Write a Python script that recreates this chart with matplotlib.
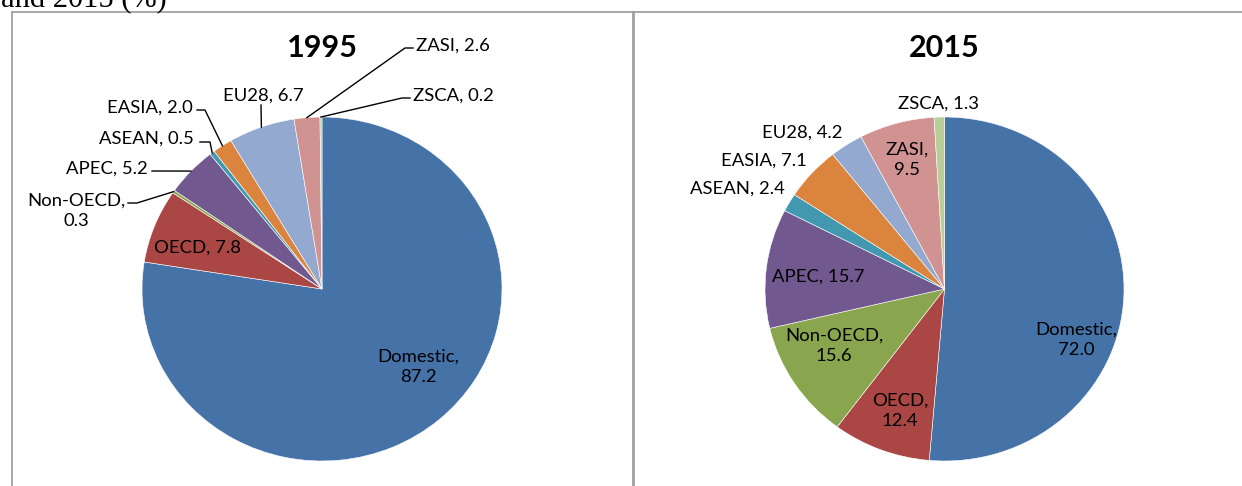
import numpy as np
import matplotlib.pyplot as plt
from matplotlib.lines import Line2D

# data
categories = ['Domestic', 'OECD', 'Non-OECD', 'APEC', 'ASEAN', 'EASIA', 'EU28', 'ZASI', 'ZSCA']
share_1995 = [87.2, 7.8, 0.3, 5.2, 0.5, 2.0, 6.7, 2.6, 0.2]
share_2015 = [72.0, 12.4, 15.6, 15.7, 2.4, 7.1, 4.2, 9.5, 1.3]
colors = ['#4572a7', '#aa4643', '#89a54e', '#71588f', '#4198af',
          '#db843d', '#93a9cf', '#d19392', '#b9cd96']

W, H = 1242, 486
FONT = 'Lato'

# label layout in pixels: (x, y, ha, two_lines, leader points)
layout_1995 = [
    (418, 367, 'center', True, None),
    (197, 248, 'center', False, None),
    (76, 211, 'center', True, [(137, 203), (128, 203)]),
    (148, 169, 'right', False, [(152, 171)]),
    (194, 139, 'right', False, [(210, 142), (200, 142)]),
    (193, 108, 'right', False, [(205, 110), (197, 110)]),
    (263, 96, 'center', False, [(261, 105)]),
    (416, 46, 'left', False, [(405, 48), (413, 48)]),
    (413, 96, 'left', False, [(402, 98), (410, 98)]),
]
layout_2015 = [
    (1076, 340, 'center', True, None),
    (900, 411, 'center', True, None),
    (834, 346, 'center', True, None),
    (818, 277, 'center', False, None),
    (737, 189, 'center', False, None),
    (764, 161, 'center', False, None),
    (802, 133, 'center', False, None),
    (907, 160, 'center', True, None),
    (938, 104, 'center', False, None),
]


def draw_pie(values, title, box, layout):
    x0, y0, x1, y1 = box
    cx, cy = (x0 + x1) / 2, (y0 + y1) / 2
    rx, ry = (x1 - x0) / 2, (y1 - y0) / 2
    ax = fig.add_axes([x0 / W, 1 - y1 / H, (x1 - x0) / W, (y1 - y0) / H])
    wedges, _ = ax.pie(values, colors=colors, startangle=90, counterclock=False,
                       wedgeprops=dict(edgecolor='white', linewidth=0.4))
    ax.set_aspect('auto')
    ax.set_xlim(-1, 1)
    ax.set_ylim(-1, 1)
    ax.axis('off')

    def to_data(p):
        return (p[0] - cx) / rx, (cy - p[1]) / ry

    for i, (w, lay) in enumerate(zip(wedges, layout)):
        tx, ty, ha, two, leader = lay
        sep = '\n' if two else ' '
        label = f'{categories[i]},{sep}{values[i]:.1f}'
        dx, dy = to_data((tx, ty))
        ax.text(dx, dy, label, ha=ha, va='center', fontsize=13.3, family=FONT,
                multialignment='center', linespacing=1.3)
        if leader:
            th = np.deg2rad((w.theta1 + w.theta2) / 2)
            pts = [(np.cos(th), np.sin(th))] + [to_data(p) for p in leader]
            xs, ys = zip(*pts)
            ax.plot(xs, ys, color='black', lw=1, clip_on=False)

    fig.text(cx / W, 1 - 48 / H, title, ha='center', va='center',
             fontsize=22, fontweight='bold', family=FONT)


fig = plt.figure(figsize=(W / 100, H / 100), dpi=100)

draw_pie(share_1995, '1995', (142, 117, 502, 461), layout_1995)
draw_pie(share_2015, '2015', (765, 117, 1124, 461), layout_2015)

# panel borders
grey = '#a0a0a0'
fig.add_artist(Line2D([12 / W, 1], [1 - 12 / H, 1 - 12 / H], color=grey, lw=1.3))
fig.add_artist(Line2D([12 / W, 12 / W], [0, 1 - 12 / H], color=grey, lw=1.3))
fig.add_artist(Line2D([633 / W, 633 / W], [0, 1 - 12 / H], color=grey, lw=2))

fig.text(1 / W, 1 - 7.5 / H, 'and 2015 (%)', ha='left', va='baseline',
         fontsize=22, family='Liberation Serif')

fig.savefig('out.png', dpi=100)
